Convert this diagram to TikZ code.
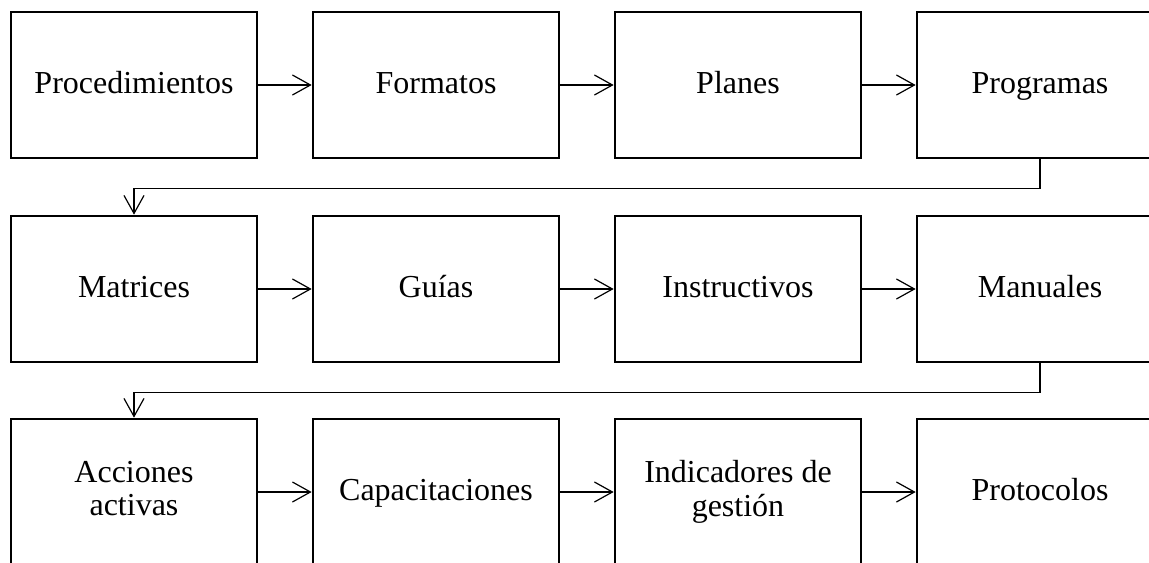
\documentclass[tikz,border=0pt]{standalone}
\usepackage{fontspec}
\setmainfont{Liberation Serif}
\usepackage{tikz}
\usetikzlibrary{calc}
\usetikzlibrary{arrows.meta}

\begin{document}
\begin{tikzpicture}[x=0.75pt,y=-0.75pt,
  caja/.style={draw=black, line width=2pt, minimum width=184.5pt, minimum height=109.5pt,
    inner sep=0pt, align=center, font=\fontsize{24}{25}\selectfont,
    execute at begin node={\rule{0pt}{17.5pt}},
    execute at end node={\rule[-5.5pt]{0pt}{5.5pt}}},
  flecha/.style={draw=black, line width=0.9pt, -{Straight Barb[length=13.5pt,width=15pt,line width=0.9pt]}}]

\useasboundingbox (0,0) rectangle (1149,562);
\clip (0,0) rectangle (1149,562);

\node[caja] (proc) at (134,85) {Procedimientos};
\node[caja] (form) at (436,85) {Formatos};
\node[caja] (plan) at (738,85) {Planes};
\node[caja] (prog) at (1040,85) {Programas};

\node[caja] (matr) at (134,289) {Matrices};
\node[caja] (guia) at (436,289) {Guías};
\node[caja] (inst) at (738,289) {Instructivos};
\node[caja] (manu) at (1040,289) {Manuales};

\node[caja] (acci) at (134,492) {Acciones\\activas};
\node[caja] (capa) at (436,492) {Capacitaciones};
\node[caja] (indi) at (738,492) {Indicadores de\\gestión};
\node[caja] (prot) at (1040,492) {Protocolos};

\draw[flecha] (proc) -- (form);
\draw[flecha] (form) -- (plan);
\draw[flecha] (plan) -- (prog);
\draw[flecha] (prog.south) -- ++(0,29) -| (matr.north);

\draw[flecha] (matr) -- (guia);
\draw[flecha] (guia) -- (inst);
\draw[flecha] (inst) -- (manu);
\draw[flecha] (manu.south) -- ++(0,29) -| (acci.north);

\draw[flecha] (acci) -- (capa);
\draw[flecha] (capa) -- (indi);
\draw[flecha] (indi) -- (prot);

\end{tikzpicture}
\end{document}
